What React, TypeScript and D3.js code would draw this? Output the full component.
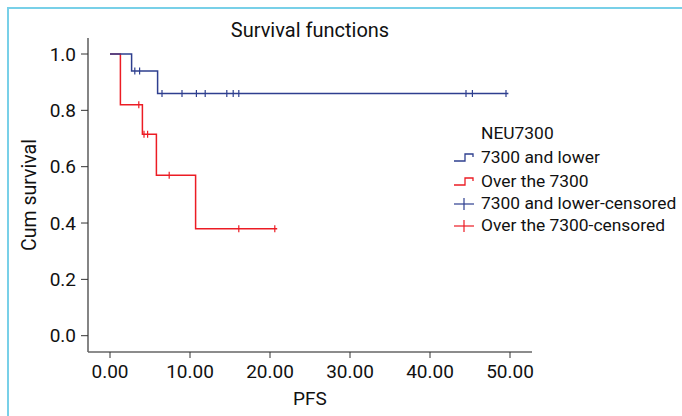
import React from 'react';
import * as d3 from 'd3';

// step points (time, cumulative survival)
const lowTimes = [0, 2.7, 5.95, 49.8];
const lowSurv = [1.0, 0.94, 0.86, 0.86];
const lowCensored = [3.1, 3.7, 6.5, 9.0, 10.8, 11.9, 14.6, 15.4, 16.1, 44.5, 45.3, 49.5];

const highTimes = [0, 1.3, 4.05, 5.8, 10.7, 20.9];
const highSurv = [1.0, 0.82, 0.715, 0.57, 0.38, 0.38];
const highCensored = [3.6, 4.25, 4.7, 7.4, 16.1, 20.6];

const xTicks = [0, 10, 20, 30, 40, 50];
const yTicks = [0, 0.2, 0.4, 0.6, 0.8, 1.0];

const legendTitle = 'NEU7300';
const legendLabels = ['7300 and lower', 'Over the 7300', '7300 and lower-censored', 'Over the 7300-censored'];

const BLUE = '#2e3f8f';
const RED = '#ec1c24';
const FONT = 'Roboto, sans-serif';

const App = () => {
    const width = 682;
    const height = 416;

    const x = d3.scaleLinear().domain([0, 50]).range([110, 510]);
    const y = d3.scaleLinear().domain([0, 1]).range([335.7, 54]);
    const xAxisStart = x(-2.75);
    const xAxisEnd = x(52.75);
    const yAxisTop = y(1.057);
    const yAxisBottom = y(-0.058);

    const line = d3.line<[number, number]>()
        .x(d => x(d[0]))
        .y(d => y(d[1]))
        .curve(d3.curveStepAfter);

    const lowPts = lowTimes.map((t, i) => [t, lowSurv[i]] as [number, number]);
    const highPts = highTimes.map((t, i) => [t, highSurv[i]] as [number, number]);

    // survival value at time t for a step function
    const survAt = (times: number[], surv: number[], t: number) => {
        let s = surv[0];
        times.forEach((tt, i) => { if (tt <= t) s = surv[i]; });
        return s;
    };

    const tick = 3.5;
    const legendY = [157, 181, 203, 225];

    return (
        <svg width={width} height={height} style={{ position: 'absolute', left: 0, top: 0 }} fontFamily={FONT}>
            <rect x={0} y={0} width={width} height={height} fill="white" />
            <rect x={8} y={8} width={800} height={600} fill="none" stroke="#78d0e8" strokeWidth={2} />

            <text x={310} y={30} textAnchor="middle" dominantBaseline="central" fontSize={20} fill="#111">Survival functions</text>

            {/* axes */}
            <line x1={88} x2={88} y1={yAxisTop} y2={yAxisBottom} stroke="#333" strokeWidth={1.2} />
            <line x1={xAxisStart} x2={xAxisEnd} y1={352} y2={352} stroke="#666" strokeWidth={1.5} />
            {yTicks.map(v => (
                <g key={'y' + v}>
                    <line x1={81} x2={88} y1={y(v)} y2={y(v)} stroke="#333" />
                    <text x={76} y={y(v)} textAnchor="end" dominantBaseline="central" fontSize={19} fill="#111">{v.toFixed(1)}</text>
                </g>
            ))}
            {xTicks.map(v => (
                <g key={'x' + v}>
                    <line x1={x(v)} x2={x(v)} y1={352} y2={358} stroke="#333" />
                    <text x={x(v)} y={371} textAnchor="middle" dominantBaseline="central" fontSize={19} fill="#111">{v.toFixed(2)}</text>
                </g>
            ))}
            <text x={310} y={398} textAnchor="middle" dominantBaseline="central" fontSize={19} fill="#111">PFS</text>
            <text transform={`translate(29,${(yAxisTop + yAxisBottom) / 2}) rotate(-90)`} textAnchor="middle" dominantBaseline="central" fontSize={19.5} fill="#111">Cum survival</text>

            {/* curves */}
            <path d={line(highPts) || ''} fill="none" stroke={RED} strokeWidth={1.5} />
            <path d={line(lowPts) || ''} fill="none" stroke={BLUE} strokeWidth={1.5} />
            {highCensored.map((t, i) => {
                const yy = y(survAt(highTimes, highSurv, t));
                return <line key={'hc' + i} x1={x(t)} x2={x(t)} y1={yy - tick} y2={yy + tick} stroke={RED} strokeWidth={1.2} />;
            })}
            {lowCensored.map((t, i) => {
                const yy = y(survAt(lowTimes, lowSurv, t));
                return <line key={'lc' + i} x1={x(t)} x2={x(t)} y1={yy - tick} y2={yy + tick} stroke={BLUE} strokeWidth={1.2} />;
            })}

            {/* legend */}
            <text x={481} y={133} dominantBaseline="central" fontSize={17.4} fill="#111">{legendTitle}</text>
            {legendLabels.map((label, i) => {
                const ly = legendY[i];
                const color = i % 2 === 0 ? BLUE : RED;
                const symbol = i < 2
                    ? <path d={`M454,${ly + 4}H465V${ly - 3}H473V${ly}`} fill="none" stroke={color} strokeWidth={1.3} />
                    : <g>
                        <line x1={454} x2={474} y1={ly + 1} y2={ly + 1} stroke={color} strokeWidth={1.2} />
                        <line x1={464} x2={464} y1={ly - 5} y2={ly + 7} stroke={color} strokeWidth={1.2} />
                    </g>;
                return (
                    <g key={label}>
                        {symbol}
                        <text x={481} y={ly} dominantBaseline="central" fontSize={17.4} fill="#111">{label}</text>
                    </g>
                );
            })}
        </svg>
    );
};

export default App;
